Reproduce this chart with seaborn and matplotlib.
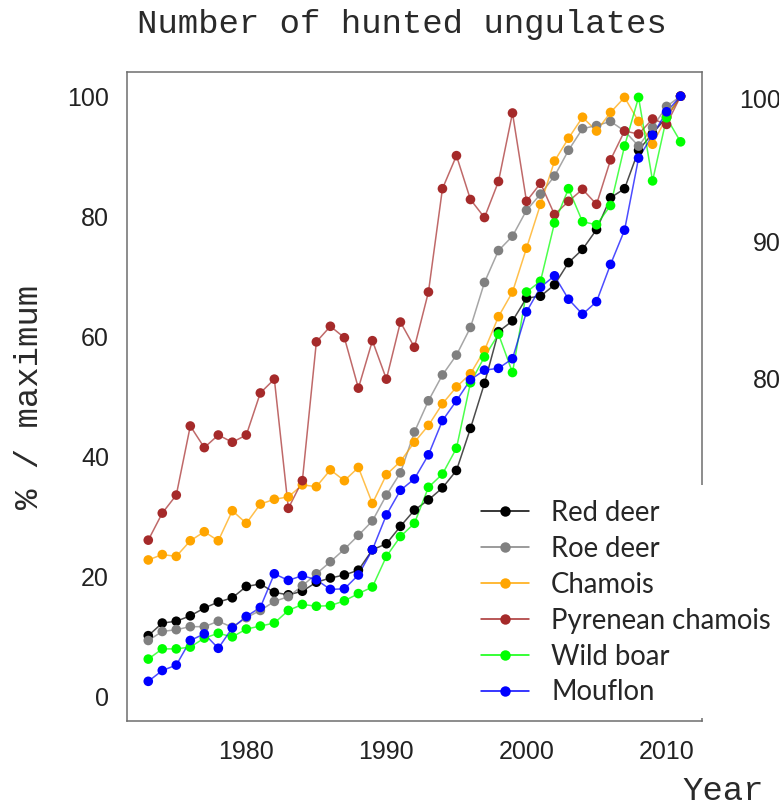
import pandas as pd
import numpy as np
import seaborn as sns
import matplotlib.pyplot as plt
from matplotlib.lines import Line2D
from matplotlib.patches import Rectangle

# years and % of maximum for every species
years = list(range(1973, 2012))

red_deer = [10.2, 12.3, 12.6, 13.5, 14.8, 15.8, 16.5, 18.4, 18.8, 17.4,
            17.0, 17.6, 19.1, 19.8, 20.3, 21.1, 24.5, 25.5, 28.4, 31.1,
            32.8, 34.8, 37.7, 44.7, 52.2, 60.8, 62.6, 66.4, 66.7, 68.6,
            72.3, 74.5, 77.8, 83.1, 84.6, 91.0, 93.8, 96.5, 100.0]
roe_deer = [9.4, 10.9, 11.2, 11.7, 11.7, 12.6, 11.6, 13.2, 14.4, 15.9,
            16.7, 18.5, 20.5, 22.5, 24.6, 26.9, 29.3, 33.6, 37.3, 44.1,
            49.3, 53.6, 56.9, 61.5, 69.0, 74.3, 76.7, 81.0, 83.7, 86.7,
            91.0, 94.6, 95.1, 95.8, 94.2, 91.7, 94.8, 98.3, 100.0]
chamois = [22.8, 23.7, 23.4, 26.0, 27.5, 26.0, 31.0, 28.9, 32.1, 32.9,
           33.3, 35.3, 35.0, 37.8, 36.0, 38.2, 32.2, 37.0, 39.2, 42.4,
           45.2, 48.8, 51.6, 53.8, 57.7, 63.3, 67.4, 74.7, 82.0, 89.2,
           93.0, 96.5, 94.2, 97.3, 99.8, 95.8, 92.0, 96.5, 100.0]
pyrenean = [26.1, 30.6, 33.6, 45.1, 41.5, 43.6, 42.4, 43.6, 50.6, 52.9,
            31.4, 36.0, 59.1, 61.7, 59.8, 51.4, 59.3, 52.9, 62.4, 58.2,
            67.4, 84.6, 90.1, 82.8, 79.8, 85.8, 97.2, 82.5, 85.5, 80.3,
            82.5, 84.5, 82.0, 89.4, 94.2, 93.7, 96.2, 95.3, 100.0]
wild_boar = [6.3, 8.0, 8.0, 8.3, 9.8, 10.6, 10.0, 11.3, 11.8, 12.3,
             14.4, 15.4, 15.1, 15.2, 16.0, 17.2, 18.3, 23.4, 26.7, 28.9,
             34.9, 37.1, 41.4, 52.3, 56.6, 60.4, 54.0, 67.4, 69.2, 78.9,
             84.6, 79.1, 78.6, 81.8, 91.7, 99.8, 85.9, 96.4, 92.4]
mouflon = [2.6, 4.4, 5.3, 9.4, 10.5, 8.1, 11.5, 13.4, 14.9, 20.5,
           19.4, 20.2, 19.5, 17.9, 18.0, 20.3, 24.5, 30.3, 34.4, 36.3,
           40.3, 46.0, 49.3, 52.8, 54.4, 54.7, 56.3, 64.1, 68.2, 70.1,
           66.2, 63.7, 65.8, 72.0, 77.7, 89.7, 93.5, 97.4, 100.0]

species = ["Red deer", "Roe deer", "Chamois", "Pyrenean chamois", "Wild boar", "Mouflon"]
colors = ["#000000", "#808080", "#FFA500", "#A52A2A", "#00FF00", "#0000FF"]
series = [red_deer, roe_deer, chamois, pyrenean, wild_boar, mouflon]

# long table for seaborn
df = pd.concat([pd.DataFrame({"Year": years, "value": s, "Species": name})
                for name, s in zip(species, series)], ignore_index=True)
pal = dict(zip(species, colors))

sns.set_style("white")
fig = plt.figure(figsize=(7.79, 8.07), dpi=100)
ax = fig.add_axes([0.163, 0.1066, 0.738, 0.804])

sns.lineplot(data=df, x="Year", y="value", hue="Species", palette=pal,
             hue_order=species, lw=1.1, alpha=0.7, legend=False, ax=ax)
sns.scatterplot(data=df, x="Year", y="value", hue="Species", palette=pal,
                hue_order=species, s=48, linewidth=0, legend=False, ax=ax, zorder=3)

ax.set_xlim(1971.48, 2012.52)
ax.set_ylim(-4, 104)
ax.set_xticks([1980, 1990, 2000, 2010])
ax.set_yticks([0, 20, 40, 60, 80, 100])
ax.set_xlabel("")
ax.set_ylabel("")
for sp in ax.spines.values():
    sp.set_color("#6e6e6e")
    sp.set_linewidth(1.1)
ax.tick_params(direction="out", length=8, width=1.0, color="#6e6e6e",
               labelsize=18, labelcolor="#222222", pad=5)
ax.tick_params(axis="x", pad=6)
for lab in ax.get_xticklabels() + ax.get_yticklabels():
    lab.set_family("Liberation Sans")

# titles in typewriter font (thin look -> slightly softened colour)
mono = dict(family="Liberation Mono", fontsize=24.5, color="#2a2a2a")
fig.text(402 / 779, 1 - 24 / 807, "Number of hunted ungulates", ha="center", va="center", **mono)
fig.text(30 / 779, 1 - 397 / 807, "% / maximum", rotation=90, ha="center", va="center", **mono)
fig.text(723 / 779, 1 - 792 / 807, "Year", ha="center", va="center", **mono)

# bits of the neighbouring panel's axis
for txt, yy in [("100", 101), ("90", 244), ("80", 381)]:
    fig.text(781 / 779, 1 - yy / 807, txt, ha="right", va="center",
             family="Liberation Sans", fontsize=18, color="#222222")

# white legend box that covers the right spine
fig.patches.append(Rectangle((470 / 779, 1 - 718 / 807), 320 / 779, 233 / 807,
                             transform=fig.transFigure, facecolor="white",
                             edgecolor="none", zorder=5))
handles = [Line2D([], [], color=c, lw=1.1, marker="o", markersize=7.5,
                  markerfacecolor=c, markeredgewidth=0) for c in colors]
leg = fig.legend(handles, species, loc="upper left", bbox_to_anchor=(481 / 779, 1 - 500 / 807),
                 frameon=False, borderpad=0, borderaxespad=0, handlelength=1.75,
                 handletextpad=0.8, labelspacing=0.36,
                 prop={"family": "Lato", "size": 19.8})
leg.set_zorder(6)
for h in leg.legend_handles:
    h.set_alpha(None)

fig.savefig("out.png", dpi=100)
